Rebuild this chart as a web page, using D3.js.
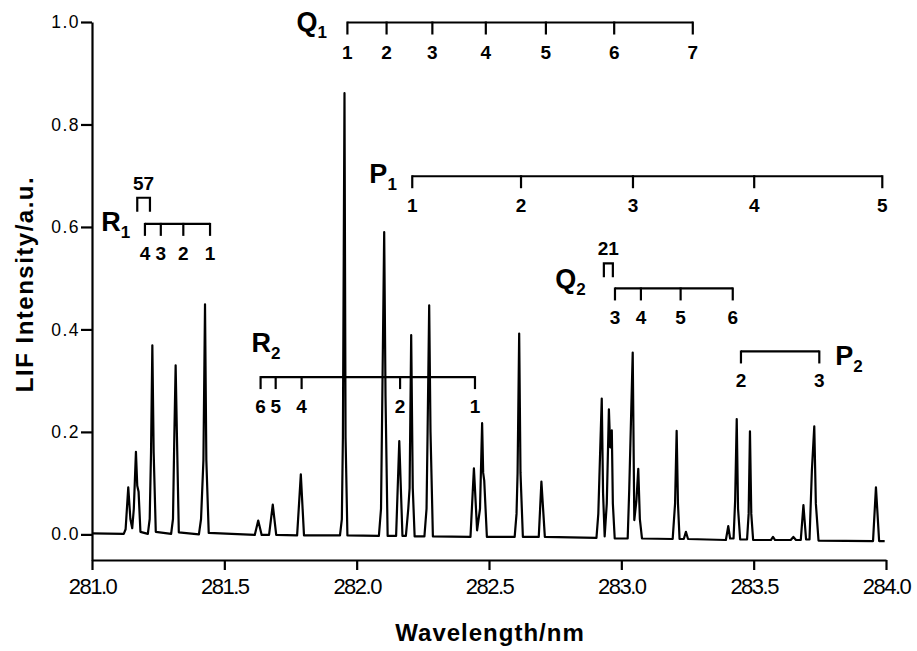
<!DOCTYPE html>
<html>
<head>
<meta charset="utf-8">
<script src="https://cdn.jsdelivr.net/npm/d3@7"></script>
<style>
  body { margin: 0; background: #fff; }
  .svg { display: block; font-family: 'Liberation Sans', Arial, sans-serif; }
  .axis path, .axis line { stroke: #000; stroke-width: 2.2; }
  .xAxis text { font-size: 22px; letter-spacing: -1.5px; fill: #000; }
  .yAxis text { font-size: 17.5px; letter-spacing: 1.5px; fill: #000; }
  .title { font-size: 24px; font-weight: bold; fill: #000; }
  .trace { fill: none; stroke: #000; stroke-width: 2.2; stroke-linejoin: round; }
  .bracket { fill: none; stroke: #000; stroke-width: 2.2; }
  .jLabel { font-size: 19px; font-weight: bold; text-anchor: middle; fill: #000; }
  .branch { font-size: 27px; font-weight: bold; fill: #000; }
</style>
</head>
<body>
<div class="dataviz"></div>
<script>
// LIF spectrum trace: [wavelength nm, intensity a.u.]
const spectrum = [
  [281.000, 0.002], [281.120, 0.001],
  [281.127, 0.010], [281.137, 0.092], [281.145, 0.030], [281.152, 0.012],
  [281.158, 0.050], [281.166, 0.161], [281.171, 0.095], [281.176, 0.083], [281.183, 0.005],
  [281.211, 0.001], [281.218, 0.030], [281.223, 0.160], [281.228, 0.369], [281.233, 0.160], [281.241, 0.005],
  [281.299, 0.001], [281.306, 0.030], [281.311, 0.190], [281.316, 0.330], [281.321, 0.190], [281.328, 0.004],
  [281.404, 0.000], [281.412, 0.030], [281.421, 0.145], [281.427, 0.449], [281.432, 0.145], [281.441, 0.003],
  [281.615, -0.001], [281.628, 0.027], [281.641, -0.001],
  [281.669, -0.001], [281.683, 0.058], [281.696, -0.001],
  [281.775, -0.002], [281.789, 0.117], [281.801, -0.002],
  [281.937, -0.002], [281.944, 0.030], [281.948, 0.190], [281.954, 0.861], [281.958, 0.190], [281.965, -0.002],
  [282.084, -0.003], [282.092, 0.050], [282.097, 0.270], [282.104, 0.590], [282.109, 0.270], [282.117, -0.003],
  [282.149, -0.003], [282.161, 0.182], [282.173, -0.003],
  [282.186, -0.003], [282.195, 0.050], [282.200, 0.090], [282.206, 0.389], [282.212, 0.090], [282.219, -0.004],
  [282.256, -0.004], [282.264, 0.050], [282.268, 0.200], [282.274, 0.447], [282.279, 0.200], [282.288, -0.004],
  [282.430, -0.005], [282.443, 0.129], [282.455, 0.008], [282.466, 0.050], [282.474, 0.217],
  [282.478, 0.120], [282.482, 0.105], [282.492, -0.005],
  [282.597, -0.005], [282.604, 0.040], [282.608, 0.120], [282.614, 0.392], [282.619, 0.120], [282.628, -0.005],
  [282.688, -0.005], [282.698, 0.103], [282.711, -0.005],
  [282.906, -0.007], [282.913, 0.040], [282.917, 0.110], [282.926, 0.265], [282.931, 0.080], [282.937, -0.004],
  [282.945, 0.060], [282.953, 0.244], [282.958, 0.170], [282.964, 0.203], [282.968, 0.060], [282.975, -0.008],
  [283.024, -0.008], [283.030, 0.090], [283.043, 0.355], [283.049, 0.028], [283.057, 0.066],
  [283.064, 0.128], [283.070, 0.030], [283.078, -0.008],
  [283.194, -0.009], [283.203, 0.060], [283.209, 0.202], [283.214, 0.060], [283.220, -0.009],
  [283.236, -0.009], [283.244, 0.005], [283.252, -0.009],
  [283.395, -0.011], [283.404, 0.016], [283.411, -0.008], [283.424, -0.008], [283.430, 0.066],
  [283.436, 0.225], [283.441, 0.050], [283.449, -0.010],
  [283.475, -0.010], [283.481, 0.040], [283.486, 0.201], [283.491, 0.040], [283.498, -0.011],
  [283.565, -0.011], [283.573, -0.005], [283.581, -0.011],
  [283.640, -0.011], [283.650, -0.005], [283.660, -0.011],
  [283.678, -0.011], [283.688, 0.057], [283.698, -0.010],
  [283.711, -0.010], [283.720, 0.125], [283.729, 0.211], [283.735, 0.060], [283.745, -0.012],
  [283.951, -0.013], [283.962, 0.092], [283.974, -0.013], [283.995, -0.013]
]

const xTicks = [281.0, 281.5, 282.0, 282.5, 283.0, 283.5, 284.0]
const yTicks = [0.0, 0.2, 0.4, 0.6, 0.8, 1.0]

// line assignments: wavelength of each marker and its J label
const r1Nm = [281.200, 281.260, 281.345, 281.446]
const r1J = ['4', '3', '2', '1']
const r2Nm = [281.637, 281.694, 281.792, 282.164, 282.447]
const r2J = ['6', '5', '4', '2', '1']
const q1Nm = [281.965, 282.113, 282.286, 282.488, 282.715, 282.973, 283.270]
const q1J = ['1', '2', '3', '4', '5', '6', '7']
const q2Nm = [282.976, 283.074, 283.224, 283.421]
const q2J = ['3', '4', '5', '6']
const p1Nm = [282.210, 282.621, 283.044, 283.502, 283.986]
const p1J = ['1', '2', '3', '4', '5']
const p2Nm = [283.452, 283.748]
const p2J = ['2', '3']

// small unresolved pairs
const r1Pair = [281.171, 281.219]
const q2Pair = [282.934, 282.968]

const brackets = [
  { branch: 'R', sub: '1', nm: r1Nm, j: r1J, level: 0.606, at: [281.035, 0.593] },
  { branch: 'R', sub: '2', nm: r2Nm, j: r2J, level: 0.307, at: [281.603, 0.356] },
  { branch: 'Q', sub: '1', nm: q1Nm, j: q1J, level: 0.999, at: [281.773, 0.983] },
  { branch: 'Q', sub: '2', nm: q2Nm, j: q2J, level: 0.480, at: [282.750, 0.480] },
  { branch: 'P', sub: '1', nm: p1Nm, j: p1J, level: 0.699, at: [282.048, 0.686] },
  { branch: 'P', sub: '2', nm: p2Nm, j: p2J, level: 0.357, at: [283.808, 0.331] }
]

const pairs = [
  { nm: r1Pair, text: '57', level: 0.657 },
  { nm: q2Pair, text: '21', level: 0.529 }
]

const width = 917
const height = 651

const svg = d3.select('.dataviz').append('svg')
  .attr('class', 'svg')
  .attr('width', width)
  .attr('height', height)

// scales
const xScale = d3.scaleLinear().domain([281, 284]).range([92, 886])
const yScale = d3.scaleLinear().domain([-0.05, 1.0]).range([560, 22])

// axes
svg.append('g')
  .attr('class', 'axis xAxis')
  .attr('transform', `translate(0, ${yScale(-0.05)})`)
  .call(d3.axisBottom(xScale).tickValues(xTicks).tickFormat(d3.format('.1f'))
    .tickSize(10).tickSizeOuter(0).tickPadding(8))

svg.append('g')
  .attr('class', 'axis yAxis')
  .attr('transform', `translate(${xScale(281)}, 0)`)
  .call(d3.axisLeft(yScale).tickValues(yTicks).tickFormat(d3.format('.1f'))
    .tickSize(11).tickSizeOuter(0).tickPadding(1))

// axis titles
svg.append('text')
  .attr('class', 'title')
  .attr('x', 490)
  .attr('y', 641)
  .attr('text-anchor', 'middle')
  .style('letter-spacing', '1px')
  .text('Wavelength/nm')

svg.append('text')
  .attr('class', 'title')
  .attr('transform', 'translate(33, 284) rotate(-90)')
  .attr('text-anchor', 'middle')
  .style('letter-spacing', '1.5px')
  .text('LIF Intensity/a.u.')

// spectrum
const line = d3.line()
  .x(d => xScale(d[0]))
  .y(d => yScale(d[1]))

svg.append('path')
  .datum(spectrum)
  .attr('class', 'trace')
  .attr('d', line)

// branch brackets
const tickLen = 12
const labelDrop = 36

brackets.forEach(b => {
  const g = svg.append('g')
  const y = yScale(b.level)
  const x0 = xScale(d3.min(b.nm))
  const x1 = xScale(d3.max(b.nm))

  g.append('line')
    .attr('class', 'bracket')
    .attr('x1', x0).attr('x2', x1)
    .attr('y1', y).attr('y2', y)

  g.selectAll('.tk')
    .data(b.nm)
    .enter()
    .append('line')
    .attr('class', 'bracket')
    .attr('x1', d => xScale(d)).attr('x2', d => xScale(d))
    .attr('y1', y - 1).attr('y2', y + tickLen)

  g.selectAll('.jLabel')
    .data(b.nm)
    .enter()
    .append('text')
    .attr('class', 'jLabel')
    .attr('x', d => xScale(d))
    .attr('y', y + labelDrop)
    .text((d, i) => b.j[i])

  const lab = g.append('text')
    .attr('class', 'branch')
    .attr('x', xScale(b.at[0]))
    .attr('y', yScale(b.at[1]))
  lab.append('tspan').text(b.branch)
  lab.append('tspan').attr('dy', 7).style('font-size', '17px').text(b.sub)
})

// little pair brackets
pairs.forEach(p => {
  const y = yScale(p.level)
  const x0 = xScale(p.nm[0])
  const x1 = xScale(p.nm[1])
  svg.append('path')
    .attr('class', 'bracket')
    .attr('d', `M${x0},${y + 14}V${y}H${x1}V${y + 14}`)
  svg.append('text')
    .attr('class', 'jLabel')
    .attr('x', (x0 + x1) / 2)
    .attr('y', y - 8)
    .text(p.text)
})
</script>
</body>
</html>
